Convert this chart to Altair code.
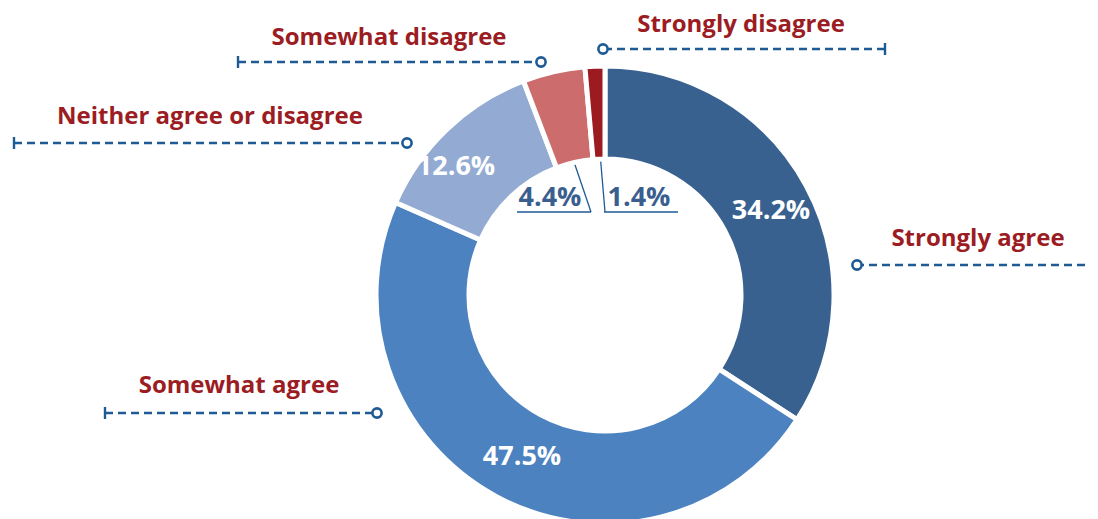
import altair as alt
import pandas as pd

# ---- data ----
categories = ["Strongly agree", "Somewhat agree", "Neither agree or disagree",
              "Somewhat disagree", "Strongly disagree"]
values = [34.2, 47.5, 12.6, 4.4, 1.4]
pct_labels = ["34.2%", "47.5%", "12.6%", "4.4%", "1.4%"]

# ---- styles ----
colors = ["#38618f", "#4d82c1", "#93abd3", "#cc6c6c", "#9b1b20"]
RED = "#9b1c22"
BLUE = "#1e5a94"
DARK = "#3a5f8f"
FONT = "Open Sans"

# ---- layout (page pixel coordinates) ----
W, H, M = 1098, 519, 8
PW, PH = W - 2 * M, H - M      # chart size in pixels
CX, CY = 605, 295
R_OUT, R_IN = 229, 136

name_x = [978, 239, 210, 389, 741]
name_y = [246, 393, 124, 45, 32]
line_y = [265, 413, 143, 62, 49]
line_from = [1098, 105, 14, 238, 885]
line_to = [857, 377, 407, 541, 603]
has_tick = [False, True, True, True, True]

pct_x = [771, 522, 456, 550, 639]
pct_y = [211, 457, 167, 198, 198]
pct_inside = [True, True, True, False, False]

# leader lines for the small slices: underline + diagonal
lead_x1 = [517, 591, 604, 605]
lead_y1 = [212, 212, 212, 212]
lead_x2 = [591, 572, 678, 600]
lead_y2 = [212, 156, 212, 153]

xs = alt.Scale(domain=[M, M + PW], range=[0, PW])
ys = alt.Scale(domain=[M, M + PH], range=[0, PH])

slices = pd.DataFrame({"category": categories, "value": values,
                       "order": list(range(len(categories)))})

arcs = alt.Chart(slices).mark_arc(
    radius=R_OUT, radius2=R_IN, stroke="white", strokeWidth=5
).encode(
    theta=alt.Theta("value:Q", stack=True),
    order=alt.Order("order:Q"),
    color=alt.Color("category:N", scale=alt.Scale(domain=categories, range=colors),
                    legend=None),
    x=alt.value(CX - M),
    y=alt.value(CY - M),
)

lines = pd.DataFrame({"x1": line_from, "x2": line_to, "y": line_y,
                      "tick": has_tick, "name": categories,
                      "nx": name_x, "ny": name_y})

dashed = alt.Chart(lines).mark_rule(
    color=BLUE, strokeWidth=2.4, strokeDash=[8, 5]
).encode(
    x=alt.X("x1:Q", scale=xs, axis=None),
    x2="x2:Q",
    y=alt.Y("y:Q", scale=ys, axis=None),
)

ticks = alt.Chart(lines).transform_filter("datum.tick").transform_calculate(
    ya="datum.y - 6", yb="datum.y + 6"
).mark_rule(color=BLUE, strokeWidth=2.4).encode(
    x=alt.X("x1:Q", scale=xs, axis=None),
    y=alt.Y("ya:Q", scale=ys, axis=None),
    y2="yb:Q",
)

dots = alt.Chart(lines).mark_point(
    shape="circle", filled=True, color="white", stroke=BLUE,
    strokeWidth=2.6, size=85, opacity=1
).encode(
    x=alt.X("x2:Q", scale=xs, axis=None),
    y=alt.Y("y:Q", scale=ys, axis=None),
)

names = alt.Chart(lines).mark_text(
    font=FONT, fontWeight="bold", fontSize=24, color=RED,
    align="center", baseline="alphabetic"
).encode(
    x=alt.X("nx:Q", scale=xs, axis=None),
    y=alt.Y("ny:Q", scale=ys, axis=None),
    text="name:N",
)

pcts = pd.DataFrame({"label": pct_labels, "px": pct_x, "py": pct_y,
                     "inside": pct_inside})

pct_text = alt.Chart(pcts).mark_text(
    font=FONT, fontWeight="bold", fontSize=27, align="center", baseline="middle"
).encode(
    x=alt.X("px:Q", scale=xs, axis=None),
    y=alt.Y("py:Q", scale=ys, axis=None),
    text="label:N",
    color=alt.condition("datum.inside", alt.value("white"), alt.value(DARK)),
)

leaders = pd.DataFrame({"x1": lead_x1, "y1": lead_y1, "x2": lead_x2, "y2": lead_y2})
lead = alt.Chart(leaders).mark_rule(color=BLUE, strokeWidth=1.3).encode(
    x=alt.X("x1:Q", scale=xs, axis=None),
    y=alt.Y("y1:Q", scale=ys, axis=None),
    x2="x2:Q",
    y2="y2:Q",
)

chart = alt.layer(lead, arcs, dashed, ticks, dots, names, pct_text).properties(
    width=PW, height=PH, autosize="none", padding=0
).configure_view(stroke=None)

chart.save("out.html", embed_options={"renderer": "svg", "actions": False})
